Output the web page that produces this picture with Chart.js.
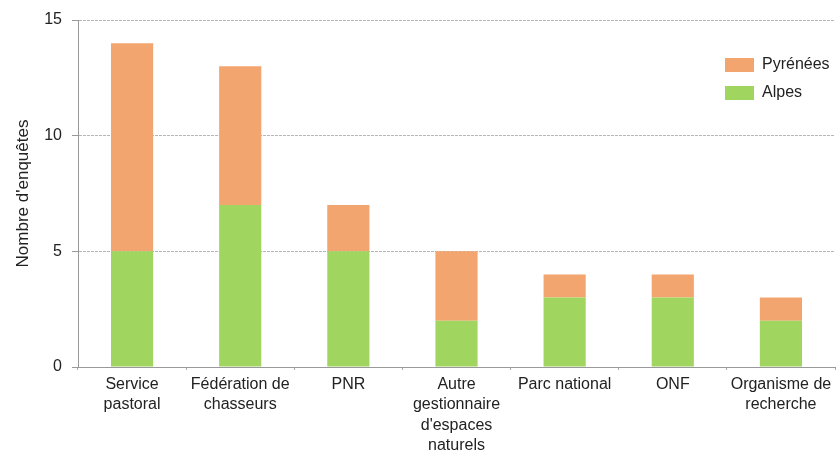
<!DOCTYPE html>
<html lang="fr">
  <head>
    <meta charset="UTF-8" />
    <title>Nombre d'enquêtes par structure</title>
    <script src="https://cdn.jsdelivr.net/npm/chart.js@4/dist/chart.umd.min.js"></script>
    <style>
      html, body { margin: 0; padding: 0; background: #fff; }
      #wrap { width: 840px; height: 455px; position: relative; }
    </style>
  </head>
  <body>
    <div id="wrap">
      <canvas id="bars" width="840" height="455"></canvas>
    </div>
    <script>
      const categories = [
        ["Service", "pastoral"],
        ["Fédération de", "chasseurs"],
        "PNR",
        ["Autre", "gestionnaire", "d'espaces", "naturels"],
        "Parc national",
        "ONF",
        ["Organisme de", "recherche"]
      ];
      const alpes = [5, 7, 5, 2, 3, 3, 2];
      const pyrenees = [9, 6, 2, 3, 1, 1, 1];
      const yTicks = [0, 5, 10, 15];

      const orange = "#f3a56f";
      const green = "#a0d660";
      const font = "'Liberation Sans', Arial, sans-serif";

      // legend drawn inside the plot, top right
      const sideLegend = {
        id: "sideLegend",
        afterDraw(chart) {
          const ctx = chart.ctx;
          const items = [
            { label: "Pyrénées", color: orange },
            { label: "Alpes", color: green }
          ];
          ctx.save();
          ctx.font = "16px " + font;
          ctx.textBaseline = "middle";
          items.forEach(function(it, i) {
            const y = 65 + i * 28;
            ctx.fillStyle = it.color;
            ctx.fillRect(725, y - 7, 29, 14);
            ctx.fillStyle = "#222";
            ctx.fillText(it.label, 762, y);
          });
          ctx.restore();
        }
      };

      new Chart(document.getElementById("bars"), {
        type: "bar",
        data: {
          labels: categories,
          datasets: [
            { label: "Alpes", data: alpes, backgroundColor: green },
            { label: "Pyrénées", data: pyrenees, backgroundColor: orange }
          ]
        },
        options: {
          responsive: false,
          animation: false,
          layout: { padding: { top: 20, right: 5, left: 13, bottom: 0 } },
          datasets: {
            bar: { categoryPercentage: 1, barPercentage: 0.39 }
          },
          plugins: {
            legend: { display: false },
            tooltip: { enabled: false }
          },
          scales: {
            x: {
              stacked: true,
              afterFit(scale) { scale.height = 88; },
              grid: {
                display: true,
                drawOnChartArea: false,
                tickLength: 3,
                color: "#aaa"
              },
              border: { color: "#999", dash: [3, 1] },
              ticks: {
                color: "#222",
                font: { family: font, size: 16, lineHeight: 1.28 },
                padding: 4,
                maxRotation: 0,
                autoSkip: false
              }
            },
            y: {
              stacked: true,
              min: 0,
              max: 15,
              afterFit(scale) { scale.width = 65; },
              afterBuildTicks(scale) {
                scale.ticks = yTicks.map(v => ({ value: v }));
              },
              grid: {
                color: function(c) { return c.tick && c.tick.value === 0 ? "rgba(0,0,0,0)" : "#b5b5b5"; },
                tickLength: 6,
                tickColor: "#999"
              },
              border: { color: "#999", dash: [3, 1] },
              title: {
                display: true,
                text: "Nombre d'enquêtes",
                color: "#222",
                font: { family: font, size: 17 },
                padding: { top: 0, bottom: 4 }
              },
              ticks: {
                color: "#222",
                font: { family: font, size: 16 },
                padding: 10
              }
            }
          }
        },
        plugins: [sideLegend]
      });
    </script>
  </body>
</html>
